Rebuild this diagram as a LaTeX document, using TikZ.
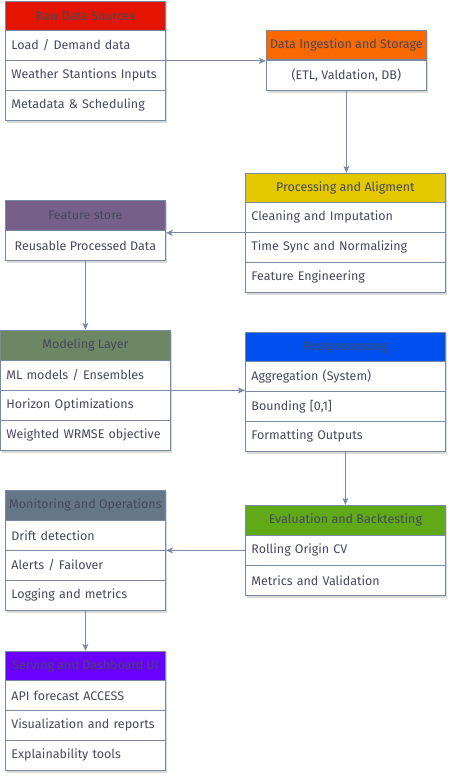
\documentclass[tikz,border=0pt]{standalone}
\usepackage{fontspec}
\setmainfont{Fira Sans}
\usetikzlibrary{arrows.meta,fit,backgrounds,shadows}
\definecolor{strk}{HTML}{788AA3}
\definecolor{txt}{HTML}{46495D}
\definecolor{cRed}{HTML}{E51400}
\definecolor{cOrange}{HTML}{FA6800}
\definecolor{cYellow}{HTML}{E3C800}
\definecolor{cPurple}{HTML}{76608A}
\definecolor{cOlive}{HTML}{6D8764}
\definecolor{cBlue}{HTML}{0050EF}
\definecolor{cGreen}{HTML}{60A917}
\definecolor{cGray}{HTML}{647687}
\definecolor{cViolet}{HTML}{6A00FF}
\begin{document}
\begin{tikzpicture}[x=1pt,y=-1pt,
  font=\fontsize{12.5}{14}\selectfont, text=txt,
  hdr/.style 2 args={draw=strk, fill=#2, line width=0.8pt, anchor=north west,
    minimum width=#1, minimum height=29.5, inner sep=0pt, align=center},
  row/.style={draw=strk, fill=white, line width=0.8pt, anchor=north west,
    text width=#1-12, inner xsep=6pt, inner ysep=0pt, minimum height=30, align=left},
  ctr/.style={inner sep=0pt, fill=white,
    drop shadow={shadow xshift=1.5pt, shadow yshift=-2pt, opacity=0.25, fill=black!60}},
  conn/.style={draw=strk, line width=0.9pt, -{Stealth[length=7pt,width=6pt,inset=2pt]}}
]
\useasboundingbox (0,0) rectangle (452,778);

% Raw Data Sources
\node[hdr={160}{cRed}] (rawh) at (5,1) {Raw Data Sources};
\node[row=160] (raw1) at (5,30) {Load / Demand data};
\node[row=160] (raw2) at (5,60) {Weather Stantions Inputs};
\node[row=160] (raw3) at (5,90) {Metadata \& Scheduling};

% Data Ingestion
\node[hdr={160}{cOrange}] (ingh) at (266,30) {Data Ingestion and Storage};
\node[draw=strk, fill=white, line width=0.8pt, anchor=north west, minimum width=160, minimum height=30, inner sep=0pt] (ing1) at (266,60) {(ETL, Valdation, DB)};

% Processing
\node[hdr={200}{cYellow}] (proch) at (245,173) {Processing and Aligment};
\node[row=200] (proc1) at (245,202) {Cleaning and Imputation};
\node[row=200] (proc2) at (245,232) {Time Sync and Normalizing};
\node[row=200] (proc3) at (245,262) {Feature Engineering};

% Feature store
\node[hdr={160}{cPurple}] (feath) at (5,200) {Feature store};
\node[draw=strk, fill=white, line width=0.8pt, anchor=north west, minimum width=160, minimum height=30, inner sep=0pt] (feat1) at (5,230) {Reusable Processed Data};

% Modeling
\node[hdr={170}{cOlive}] (modh) at (0,330) {Modeling Layer};
\node[row=170] (mod1) at (0,360) {ML models / Ensembles};
\node[row=170] (mod2) at (0,390) {Horizon Optimizations};
\node[row=170] (mod3) at (0,420) {Weighted WRMSE objective};

% Postprocessing
\node[hdr={200}{cBlue}] (posth) at (245,332) {Postprocessing};
\node[row=200] (post1) at (245,361) {Aggregation (System)};
\node[row=200] (post2) at (245,391) {Bounding [0,1]};
\node[row=200] (post3) at (245,421) {Formatting Outputs};

% Evaluation
\node[hdr={200}{cGreen}] (evalh) at (245,505) {Evaluation and Backtesting};
\node[row=200] (eval1) at (245,535) {Rolling Origin CV};
\node[row=200] (eval2) at (245,565) {Metrics and Validation};

% Monitoring
\node[hdr={160}{cGray}] (monh) at (5,490) {Monitoring and Operations};
\node[row=160] (mon1) at (5,520) {Drift detection};
\node[row=160] (mon2) at (5,550) {Alerts / Failover};
\node[row=160] (mon3) at (5,580) {Logging and metrics};

% Serving
\node[hdr={160}{cViolet}] (servh) at (5,651) {Serving and Dashboard UI};
\node[row=160] (serv1) at (5,680) {API forecast ACCESS};
\node[row=160] (serv2) at (5,710) {Visualization and reports};
\node[row=160] (serv3) at (5,740) {Explainability tools};

\begin{scope}[on background layer]
  \node[ctr, fit=(rawh)(raw3)] (raw) {};
  \node[ctr, fit=(ingh)(ing1)] (ing) {};
  \node[ctr, fit=(proch)(proc3)] (proc) {};
  \node[ctr, fit=(feath)(feat1)] (feat) {};
  \node[ctr, fit=(modh)(mod3)] (mod) {};
  \node[ctr, fit=(posth)(post3)] (post) {};
  \node[ctr, fit=(evalh)(eval2)] (eval) {};
  \node[ctr, fit=(monh)(mon3)] (mon) {};
  \node[ctr, fit=(servh)(serv3)] (serv) {};
\end{scope}

\draw[conn] (raw.east) -- (raw.east -| ing.west);
\draw[conn] (ing.south) -- (ing.south |- proc.north);
\draw[conn] (proc.west) -- (proc.west -| feat.east);
\draw[conn] (feat.south) -- (feat.south |- mod.north);
\draw[conn] (mod.east) -- (mod.east -| post.west);
\draw[conn] (post.south) -- (post.south |- eval.north);
\draw[conn] (eval.west) -- (eval.west -| mon.east);
\draw[conn] (mon.south) -- (mon.south |- serv.north);
\end{tikzpicture}
\end{document}
